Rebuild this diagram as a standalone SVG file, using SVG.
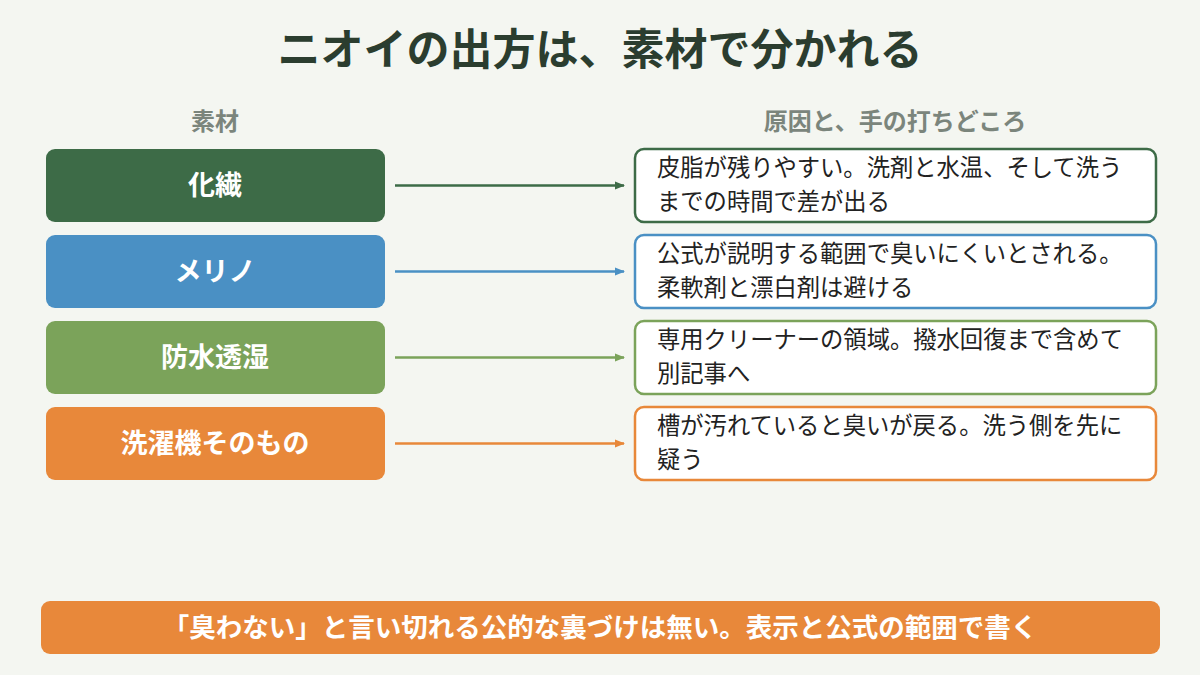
<svg xmlns="http://www.w3.org/2000/svg" width="1200" height="675" viewBox="0 0 1200 675">
<defs>
<style>
text{font-family:"Noto Sans CJK JP","Noto Sans",sans-serif}
.t{font-size:43px;font-weight:bold;fill:#2b3d2f}
.h{font-size:24px;font-weight:bold;fill:#7b857c}
.l{font-size:27px;font-weight:bold;fill:#fff}
.r{font-size:23.3px;fill:#222}
.b{fill:#fff;stroke-width:2.5}
</style>
<marker id="a1" markerWidth="10" markerHeight="10" refX="9" refY="5" orient="auto" markerUnits="userSpaceOnUse"><path d="M0,1 L10,5 L0,9z" fill="#3d6b47"/></marker>
<marker id="a2" markerWidth="10" markerHeight="10" refX="9" refY="5" orient="auto" markerUnits="userSpaceOnUse"><path d="M0,1 L10,5 L0,9z" fill="#4a90c4"/></marker>
<marker id="a3" markerWidth="10" markerHeight="10" refX="9" refY="5" orient="auto" markerUnits="userSpaceOnUse"><path d="M0,1 L10,5 L0,9z" fill="#7ba35a"/></marker>
<marker id="a4" markerWidth="10" markerHeight="10" refX="9" refY="5" orient="auto" markerUnits="userSpaceOnUse"><path d="M0,1 L10,5 L0,9z" fill="#e8883a"/></marker>
</defs>
<rect width="1200" height="675" fill="#f4f6f1"/>
<text class="t" x="600" y="65" text-anchor="middle">ニオイの出方は、素材で分かれる</text>
<text class="h" x="215" y="130" text-anchor="middle">素材</text>
<text class="h" x="895" y="130" text-anchor="middle">原因と、手の打ちどころ</text>
<g id="n1"><rect x="46" y="149" width="339" height="73" rx="9" fill="#3d6b47"/><text class="l" x="215" y="195" text-anchor="middle">化繊</text></g>
<g id="n2"><rect x="46" y="235" width="339" height="73" rx="9" fill="#4a90c4"/><text class="l" x="215" y="281" text-anchor="middle">メリノ</text></g>
<g id="n3"><rect x="46" y="321" width="339" height="73" rx="9" fill="#7ba35a"/><text class="l" x="215" y="367" text-anchor="middle">防水透湿</text></g>
<g id="n4"><rect x="46" y="407" width="339" height="73" rx="9" fill="#e8883a"/><text class="l" x="215" y="453" text-anchor="middle">洗濯機そのもの</text></g>
<g id="r1"><rect class="b" x="635" y="149" width="521" height="73" rx="9" stroke="#3d6b47"/><text class="r" x="657" y="176">皮脂が残りやすい。洗剤と水温、そして洗う</text><text class="r" x="657" y="210">までの時間で差が出る</text></g>
<g id="r2"><rect class="b" x="635" y="235" width="521" height="73" rx="9" stroke="#4a90c4"/><text class="r" x="657" y="262">公式が説明する範囲で臭いにくいとされる。</text><text class="r" x="657" y="296">柔軟剤と漂白剤は避ける</text></g>
<g id="r3"><rect class="b" x="635" y="321" width="521" height="73" rx="9" stroke="#7ba35a"/><text class="r" x="657" y="348">専用クリーナーの領域。撥水回復まで含めて</text><text class="r" x="657" y="382">別記事へ</text></g>
<g id="r4"><rect class="b" x="635" y="407" width="521" height="73" rx="9" stroke="#e8883a"/><text class="r" x="657" y="434">槽が汚れていると臭いが戻る。洗う側を先に</text><text class="r" x="657" y="468">疑う</text></g>
<g id="connectors" stroke-width="2.5">
<line x1="395" y1="185.5" x2="624" y2="185.5" stroke="#3d6b47" marker-end="url(#a1)"/>
<line x1="395" y1="271.5" x2="624" y2="271.5" stroke="#4a90c4" marker-end="url(#a2)"/>
<line x1="395" y1="357.5" x2="624" y2="357.5" stroke="#7ba35a" marker-end="url(#a3)"/>
<line x1="395" y1="443.5" x2="624" y2="443.5" stroke="#e8883a" marker-end="url(#a4)"/>
</g>
<g id="note"><rect x="41" y="601" width="1119" height="53" rx="9" fill="#e8883a"/><text x="600" y="637" text-anchor="middle" font-size="26.5" font-weight="bold" fill="#fff">「臭わない」と言い切れる公的な裏づけは無い。表示と公式の範囲で書く</text></g>
</svg>
